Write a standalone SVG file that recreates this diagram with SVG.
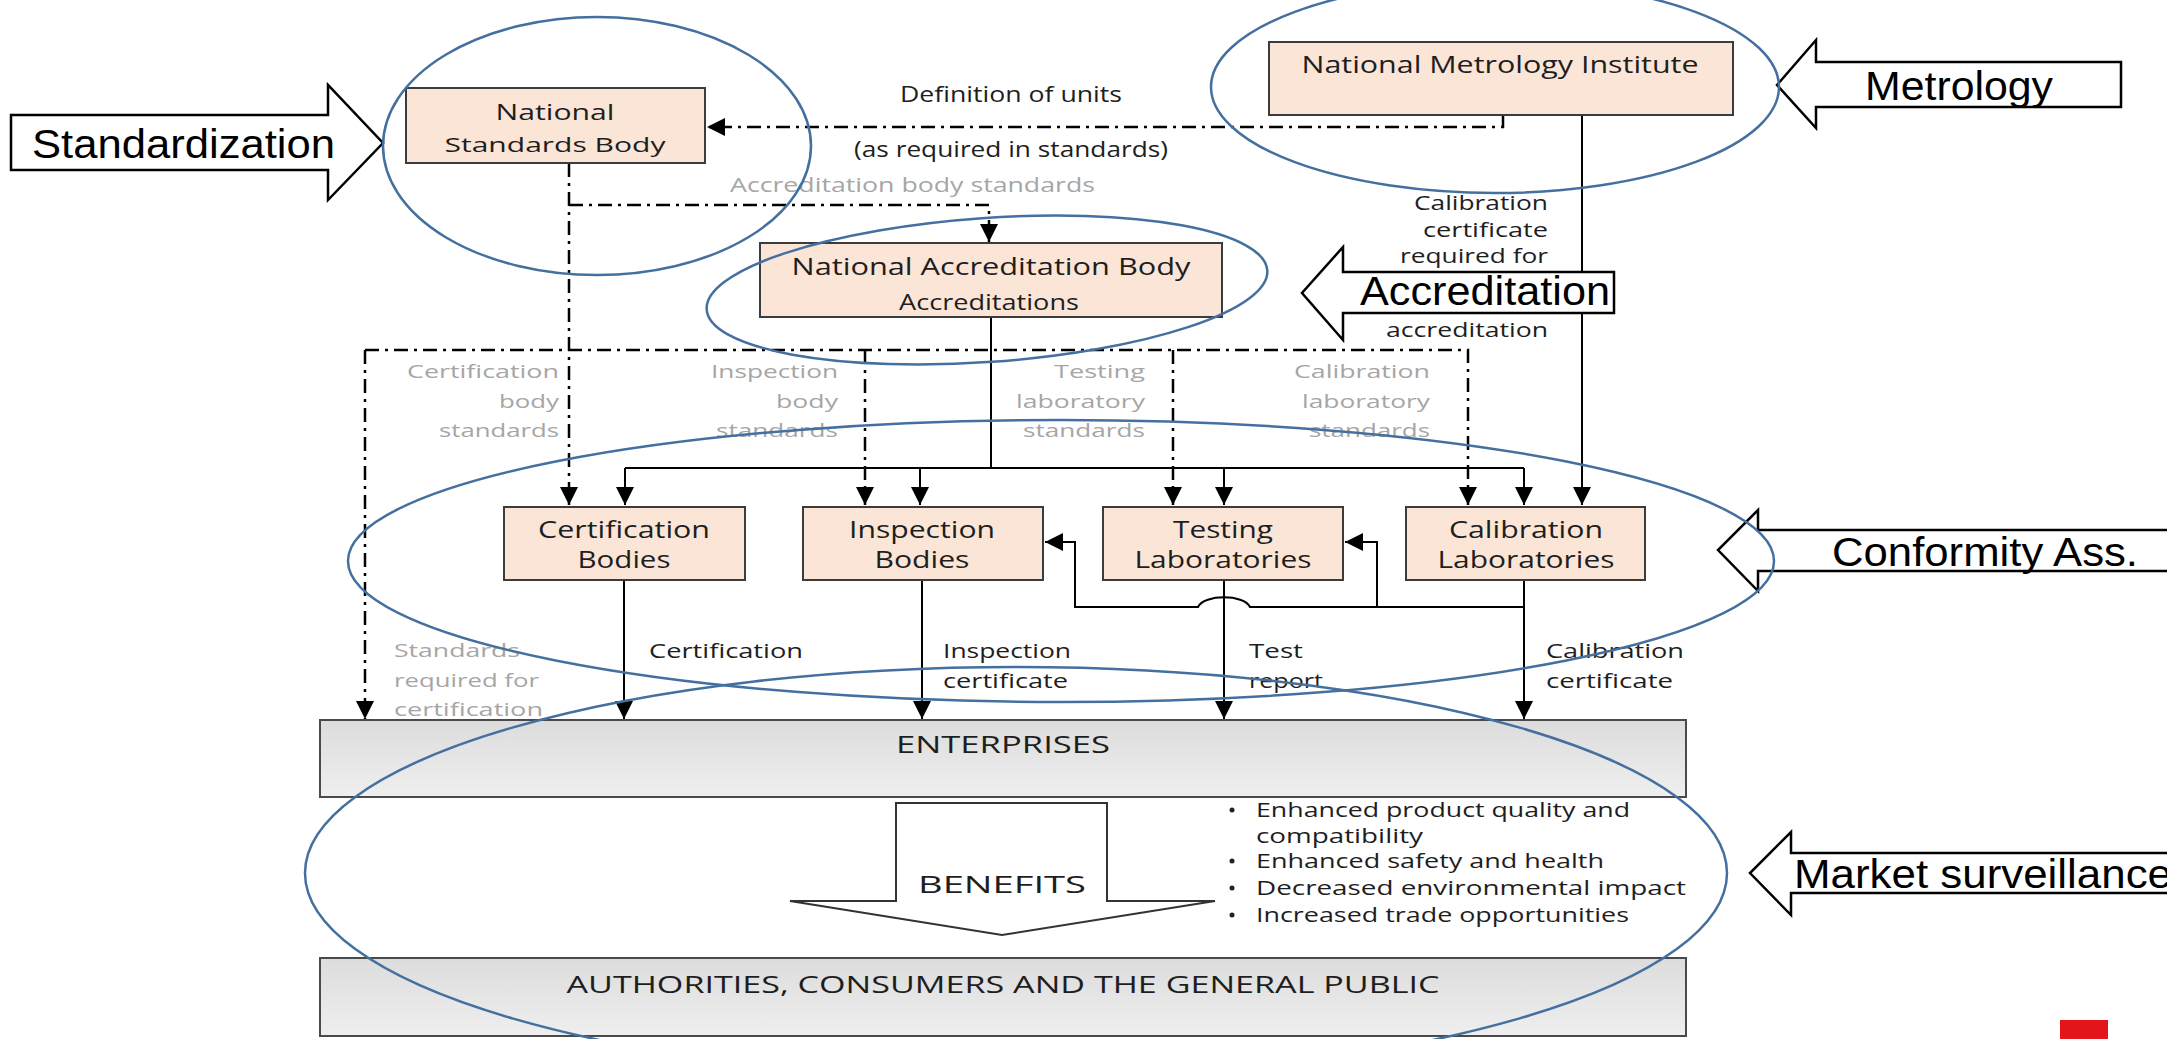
<svg xmlns="http://www.w3.org/2000/svg" width="2167" height="1039" viewBox="0 0 2167 1039">
<style>
.box{fill:#fbe5d6;stroke:#3c3c3c;stroke-width:2}
.bar{fill:url(#barfill);stroke:#4a4a4a;stroke-width:2}
.t{font-family:"Open Sans","DejaVu Sans",sans-serif;fill:#1e1e1e}
.g{font-family:"Open Sans","DejaVu Sans",sans-serif;fill:#a6a6a6}
.big{font-family:"Liberation Sans",Arial,sans-serif;font-size:40px;fill:#000}
.barrow{fill:#fff;stroke:#000;stroke-width:2.5}
.ell{fill:none;stroke:#44709f;stroke-width:2.5}
.solid{fill:none;stroke:#000;stroke-width:2}
.dd{fill:none;stroke:#000;stroke-width:2.5;stroke-dasharray:14 6 3 6}
</style>
<defs>
<linearGradient id="barfill" x1="0" y1="0" x2="0" y2="1">
<stop offset="0" stop-color="#dcdcdc"/>
<stop offset="1" stop-color="#efefef"/>
</linearGradient>
<marker id="ah" viewBox="0 0 10 10" refX="10" refY="5" markerWidth="18" markerHeight="18" markerUnits="userSpaceOnUse" orient="auto">
<path d="M0,0 L10,5 L0,10 z" fill="#000"/>
</marker>
</defs>
<rect width="2167" height="1039" fill="#fff"/>

<g id="connectors">
<path class="dd" d="M1503,115 V127 H707" marker-end="url(#ah)"/>
<path class="dd" d="M569,163 V505" marker-end="url(#ah)"/>
<path class="dd" d="M569,205 H989 V242" marker-end="url(#ah)"/>
<path class="dd" d="M365,350 H1468 V505" marker-end="url(#ah)"/>
<path class="dd" d="M365,350 V719" marker-end="url(#ah)"/>
<path class="dd" d="M865,350 V505" marker-end="url(#ah)"/>
<path class="dd" d="M1173,350 V505" marker-end="url(#ah)"/>
<path class="solid" d="M991,317 V468"/>
<path class="solid" d="M625,468 H1524"/>
<path class="solid" d="M625,468 V505" marker-end="url(#ah)"/>
<path class="solid" d="M920,468 V505" marker-end="url(#ah)"/>
<path class="solid" d="M1224,468 V505" marker-end="url(#ah)"/>
<path class="solid" d="M1524,468 V505" marker-end="url(#ah)"/>
<path class="solid" d="M1582,115 V505" marker-end="url(#ah)"/>
<path class="solid" d="M624,580 V719" marker-end="url(#ah)"/>
<path class="solid" d="M922,580 V719" marker-end="url(#ah)"/>
<path class="solid" d="M1224,580 V719" marker-end="url(#ah)"/>
<path class="solid" d="M1524,580 V719" marker-end="url(#ah)"/>
<path class="solid" d="M1524,607 H1250 C1244,594 1204,594 1198,607 H1075 V542 H1045" marker-end="url(#ah)"/>
<path class="solid" d="M1377,607 V542 H1345" marker-end="url(#ah)"/>

<text class="t" x="1011" y="102" font-size="21" text-anchor="middle" textLength="222" lengthAdjust="spacingAndGlyphs">Definition of units</text>
<text class="t" x="1011" y="157" font-size="21" text-anchor="middle" textLength="314" lengthAdjust="spacingAndGlyphs">(as required in standards)</text>
<text class="g" x="730" y="192" font-size="20" textLength="365" lengthAdjust="spacingAndGlyphs">Accreditation body standards</text>

<text class="t" x="1548" y="210" font-size="20" text-anchor="end" textLength="134" lengthAdjust="spacingAndGlyphs">Calibration</text>
<text class="t" x="1548" y="237" font-size="20" text-anchor="end" textLength="125" lengthAdjust="spacingAndGlyphs">certificate</text>
<text class="t" x="1548" y="263" font-size="20" text-anchor="end" textLength="148" lengthAdjust="spacingAndGlyphs">required for</text>
<text class="t" x="1548" y="337" font-size="20" text-anchor="end" textLength="162" lengthAdjust="spacingAndGlyphs">accreditation</text>

<text class="g" x="559" y="378" font-size="19" text-anchor="end" textLength="152" lengthAdjust="spacingAndGlyphs">Certification</text>
<text class="g" x="559" y="408" font-size="19" text-anchor="end" textLength="60" lengthAdjust="spacingAndGlyphs">body</text>
<text class="g" x="559" y="437" font-size="19" text-anchor="end" textLength="120" lengthAdjust="spacingAndGlyphs">standards</text>
<text class="g" x="838" y="378" font-size="19" text-anchor="end" textLength="127" lengthAdjust="spacingAndGlyphs">Inspection</text>
<text class="g" x="838" y="408" font-size="19" text-anchor="end" textLength="62" lengthAdjust="spacingAndGlyphs">body</text>
<text class="g" x="838" y="437" font-size="19" text-anchor="end" textLength="122" lengthAdjust="spacingAndGlyphs">standards</text>
<text class="g" x="1145" y="378" font-size="19" text-anchor="end" textLength="91" lengthAdjust="spacingAndGlyphs">Testing</text>
<text class="g" x="1145" y="408" font-size="19" text-anchor="end" textLength="129" lengthAdjust="spacingAndGlyphs">laboratory</text>
<text class="g" x="1145" y="437" font-size="19" text-anchor="end" textLength="122" lengthAdjust="spacingAndGlyphs">standards</text>
<text class="g" x="1430" y="378" font-size="19" text-anchor="end" textLength="136" lengthAdjust="spacingAndGlyphs">Calibration</text>
<text class="g" x="1430" y="408" font-size="19" text-anchor="end" textLength="128" lengthAdjust="spacingAndGlyphs">laboratory</text>
<text class="g" x="1430" y="437" font-size="19" text-anchor="end" textLength="121" lengthAdjust="spacingAndGlyphs">standards</text>

<text class="g" x="394" y="657" font-size="19" textLength="126" lengthAdjust="spacingAndGlyphs">Standards</text>
<text class="g" x="394" y="687" font-size="19" textLength="145" lengthAdjust="spacingAndGlyphs">required for</text>
<text class="g" x="394" y="716" font-size="19" textLength="149" lengthAdjust="spacingAndGlyphs">certification</text>
<text class="t" x="649" y="658" font-size="20" textLength="154" lengthAdjust="spacingAndGlyphs">Certification</text>
<text class="t" x="943" y="658" font-size="20" textLength="128" lengthAdjust="spacingAndGlyphs">Inspection</text>
<text class="t" x="943" y="688" font-size="20" textLength="125" lengthAdjust="spacingAndGlyphs">certificate</text>
<text class="t" x="1249" y="658" font-size="20" textLength="54" lengthAdjust="spacingAndGlyphs">Test</text>
<text class="t" x="1249" y="688" font-size="20" textLength="74" lengthAdjust="spacingAndGlyphs">report</text>
<text class="t" x="1546" y="658" font-size="20" textLength="138" lengthAdjust="spacingAndGlyphs">Calibration</text>
<text class="t" x="1546" y="688" font-size="20" textLength="127" lengthAdjust="spacingAndGlyphs">certificate</text>
</g>

<g id="nsb">
<rect class="box" x="406" y="88" width="299" height="75"/>
<text class="t" x="555" y="120" font-size="22" text-anchor="middle" textLength="119" lengthAdjust="spacingAndGlyphs">National</text>
<text class="t" x="555" y="152" font-size="20" text-anchor="middle" textLength="221" lengthAdjust="spacingAndGlyphs">Standards Body</text>
</g>
<g id="nmi">
<rect class="box" x="1269" y="42" width="464" height="73"/>
<text class="t" x="1500" y="73" font-size="24" text-anchor="middle" textLength="397" lengthAdjust="spacingAndGlyphs">National Metrology Institute</text>
</g>
<g id="nab">
<rect class="box" x="760" y="243" width="462" height="74"/>
<text class="t" x="991" y="275" font-size="24" text-anchor="middle" textLength="399" lengthAdjust="spacingAndGlyphs">National Accreditation Body</text>
<text class="t" x="989" y="310" font-size="21" text-anchor="middle" textLength="180" lengthAdjust="spacingAndGlyphs">Accreditations</text>
</g>
<g id="cert">
<rect class="box" x="504" y="507" width="241" height="73"/>
<text class="t" x="624" y="538" font-size="23" text-anchor="middle" textLength="172" lengthAdjust="spacingAndGlyphs">Certification</text>
<text class="t" x="624" y="568" font-size="23" text-anchor="middle" textLength="93" lengthAdjust="spacingAndGlyphs">Bodies</text>
</g>
<g id="insp">
<rect class="box" x="803" y="507" width="240" height="73"/>
<text class="t" x="922" y="538" font-size="23" text-anchor="middle" textLength="146" lengthAdjust="spacingAndGlyphs">Inspection</text>
<text class="t" x="922" y="568" font-size="23" text-anchor="middle" textLength="95" lengthAdjust="spacingAndGlyphs">Bodies</text>
</g>
<g id="test">
<rect class="box" x="1103" y="507" width="240" height="73"/>
<text class="t" x="1223" y="538" font-size="23" text-anchor="middle" textLength="100" lengthAdjust="spacingAndGlyphs">Testing</text>
<text class="t" x="1223" y="568" font-size="23" text-anchor="middle" textLength="177" lengthAdjust="spacingAndGlyphs">Laboratories</text>
</g>
<g id="calib">
<rect class="box" x="1406" y="507" width="239" height="73"/>
<text class="t" x="1526" y="538" font-size="23" text-anchor="middle" textLength="154" lengthAdjust="spacingAndGlyphs">Calibration</text>
<text class="t" x="1526" y="568" font-size="23" text-anchor="middle" textLength="177" lengthAdjust="spacingAndGlyphs">Laboratories</text>
</g>
<g id="enterprises">
<rect class="bar" x="320" y="720" width="1366" height="77"/>
<text class="t" x="1003" y="753" font-size="23" text-anchor="middle" textLength="214" lengthAdjust="spacingAndGlyphs">ENTERPRISES</text>
</g>
<g id="benefits">
<polygon points="896,803 1107,803 1107,901 1215,901 1002,935 790,901 896,901" fill="#fff" stroke="#333" stroke-width="2"/>
<text class="t" x="1002" y="893" font-size="23" text-anchor="middle" textLength="168" lengthAdjust="spacingAndGlyphs">BENEFITS</text>
</g>
<g id="benefit-list">
<circle cx="1232" cy="810" r="2.5" fill="#222"/>
<text class="t" x="1256" y="817" font-size="20" textLength="374" lengthAdjust="spacingAndGlyphs">Enhanced product quality and</text>
<text class="t" x="1256" y="843" font-size="20" textLength="167" lengthAdjust="spacingAndGlyphs">compatibility</text>
<circle cx="1232" cy="861" r="2.5" fill="#222"/>
<text class="t" x="1256" y="868" font-size="20" textLength="348" lengthAdjust="spacingAndGlyphs">Enhanced safety and health</text>
<circle cx="1232" cy="888" r="2.5" fill="#222"/>
<text class="t" x="1256" y="895" font-size="20" textLength="430" lengthAdjust="spacingAndGlyphs">Decreased environmental impact</text>
<circle cx="1232" cy="915" r="2.5" fill="#222"/>
<text class="t" x="1256" y="922" font-size="20" textLength="373" lengthAdjust="spacingAndGlyphs">Increased trade opportunities</text>
</g>
<g id="authorities">
<rect class="bar" x="320" y="958" width="1366" height="78"/>
<text class="t" x="1003" y="993" font-size="23" text-anchor="middle" textLength="873" lengthAdjust="spacingAndGlyphs">AUTHORITIES, CONSUMERS AND THE GENERAL PUBLIC</text>
</g>

<g id="label-standardization">
<polygon class="barrow" points="11,115 328,115 328,85 383,143 328,200 328,170 11,170"/>
<text class="big" x="32" y="158" textLength="303" lengthAdjust="spacingAndGlyphs">Standardization</text>
</g>
<g id="label-metrology">
<polygon class="barrow" points="2121,62 1816,62 1816,40 1777,85 1816,128 1816,107 2121,107"/>
<text class="big" x="1865" y="100" textLength="188" lengthAdjust="spacingAndGlyphs">Metrology</text>
</g>
<g id="label-accreditation">
<polygon class="barrow" points="1614,272 1343,272 1343,247 1302,293 1343,340 1343,313 1614,313"/>
<text class="big" x="1360" y="305" textLength="250" lengthAdjust="spacingAndGlyphs">Accreditation</text>
</g>
<g id="label-conformity">
<polygon class="barrow" points="2175,530 1758,530 1758,510 1718,550 1758,591 1758,571 2175,571"/>
<text class="big" x="1832" y="566" textLength="306" lengthAdjust="spacingAndGlyphs">Conformity Ass.</text>
</g>
<g id="label-market">
<polygon class="barrow" points="2175,853 1791,853 1791,832 1750,873 1791,915 1791,893 2175,893"/>
<text class="big" x="1794" y="888" textLength="378" lengthAdjust="spacingAndGlyphs">Market surveillance</text>
</g>

<g id="groupings">
<ellipse class="ell" cx="597" cy="146" rx="214" ry="129"/>
<ellipse class="ell" cx="1495" cy="87" rx="284" ry="106"/>
<ellipse class="ell" cx="987" cy="290" rx="281" ry="72" transform="rotate(-4 987 290)"/>
<ellipse class="ell" cx="1061" cy="561" rx="713" ry="141"/>
<ellipse class="ell" cx="1016" cy="873" rx="711" ry="206"/>
</g>
<rect x="2060" y="1020" width="48" height="19" fill="#e3151c"/>
</svg>
